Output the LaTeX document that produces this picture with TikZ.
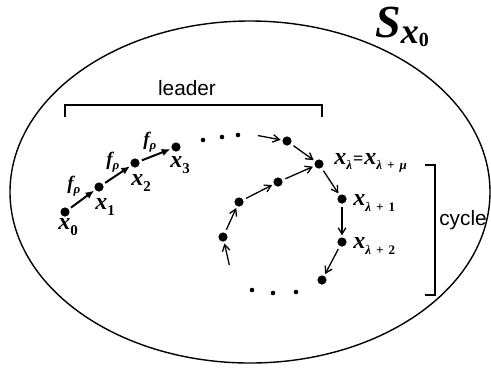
\documentclass[tikz,border=0pt]{standalone}
\usepackage{fontspec}
\newfontfamily\helv{Liberation Sans}
\newfontfamily\tms{Liberation Serif}
\usetikzlibrary{arrows.meta,positioning}
\newcommand\bx{\tms\bfseries\itshape}
\newcommand\lbl[2]{{\bx #1}\raisebox{-0.5ex}{\bx\fontsize{6.5}{7}\selectfont #2}}
\newcommand\nlbl[2]{{\bx #1}\raisebox{-0.6ex}{\tms\bfseries\fontsize{7.5}{8}\selectfont #2}}

\begin{document}
\begin{tikzpicture}[x=0.5pt, y=-0.5pt,
  dot/.style={circle, fill=black, inner sep=0pt, minimum size=4.6pt},
  sdot/.style={circle, fill=black, inner sep=0pt, minimum size=2.3pt},
  arr/.style={-{Latex[length=4.2pt, width=3.8pt]}, line width=1pt, shorten <=1.2pt, shorten >=0.6pt},
  cyc/.style={-{Straight Barb[length=3.2pt, width=3.8pt]}, line width=0.65pt, shorten <=1.5pt, shorten >=0.8pt},
  lab/.style={font=\fontsize{12}{13}\selectfont, inner sep=0pt, anchor=west},
  fl/.style={font=\fontsize{9.5}{10}\selectfont, inner sep=0pt, anchor=west},
  sans/.style={font=\helv\fontsize{10.4}{12}\selectfont, inner sep=0pt},
  brk/.style={line width=0.65pt}
]
\useasboundingbox (0,0) rectangle (491,371);

% the set
\draw[line width=0.7pt] (250,192) ellipse [x radius=240, y radius=171];
\node[inner sep=0pt, anchor=base west] (sx) at (375,37)
  {{\bx\fontsize{23}{24}\selectfont S}\raisebox{-3pt}{\bx\fontsize{18}{19}\selectfont x}\raisebox{-4.5pt}{\tms\bfseries\fontsize{10}{11}\selectfont 0}};

% leader
\node[dot] (x0) at (65,212) {};
\node[dot] (x1) at (99,187) {};
\node[dot] (x2) at (135,163) {};
\node[dot] (x3) at (176,147) {};
\node[sdot] (d1) at (203,140) {};
\node[sdot] (d2) at (222,137) {};
\node[sdot] (d3) at (238,135) {};
\coordinate (s1) at (255,135);

% cycle
\node[dot] (a) at (287,141) {};
\node[dot] (xl) at (319,164) {};
\node[dot] (xl1) at (342,199) {};
\node[dot] (xl2) at (342,242) {};
\node[dot] (b) at (322,280) {};
\node[sdot] (d4) at (296,292) {};
\node[sdot] (d5) at (273,293) {};
\node[sdot] (d6) at (252,290) {};
\coordinate (s2) at (230,268);
\node[dot] (c) at (223,237) {};
\node[dot] (d) at (239,202) {};
\node[dot] (e) at (278,182) {};

% labels
\node[lab] (l0) at (58,227) {\nlbl{x}{0}};
\node[lab] (l1) at (95,207) {\nlbl{x}{1}};
\node[lab] (l2) at (131,183) {\nlbl{x}{2}};
\node[lab] (l3) at (170,165) {\nlbl{x}{3}};
\node[lab] (ll) at (334,163) {\lbl{x}{λ}\hspace{0.5pt}{\tms\bfseries\fontsize{9}{9}\selectfont =}\hspace{0.5pt}\lbl{x}{λ\hspace{2.5pt}+\hspace{2.5pt}μ}};
\node[lab] (ll1) at (353,203) {\lbl{x}{λ\hspace{2.5pt}+\hspace{2.5pt}\upshape 1}};
\node[lab] (ll2) at (353,246) {\lbl{x}{λ\hspace{2.5pt}+\hspace{2.5pt}\upshape 2}};

\draw[arr] (x0) -- (x1);
\draw[arr] (x1) -- (x2);
\draw[arr] (x2) -- (x3);
\node[fl] (f1) at (67,186) {\lbl{f}{ρ}};
\node[fl] (f2) at (106,162) {\lbl{f}{ρ}};
\node[fl] (f3) at (143,142) {\lbl{f}{ρ}};

\draw[cyc] (s1) -- (a);
\draw[cyc] (a) -- (xl);
\draw[cyc] (xl) -- (xl1);
\draw[cyc] (xl1) -- (xl2);
\draw[cyc] (xl2) -- (b);
\draw[cyc] (s2) -- (c);
\draw[cyc] (c) -- (d);
\draw[cyc] (d) -- (e);
\draw[cyc] (e) -- (xl);

% brackets
\draw[brk] (65,117) -- (65,105) -- (322,105) -- (322,117);
\node[sans] (ld) at (187,88) {leader};
\draw[brk] (425,165) -- (435,165) -- (435,295) -- (425,295);
\node[sans] (cy) at (463,220) {cycle};
\end{tikzpicture}
\end{document}
